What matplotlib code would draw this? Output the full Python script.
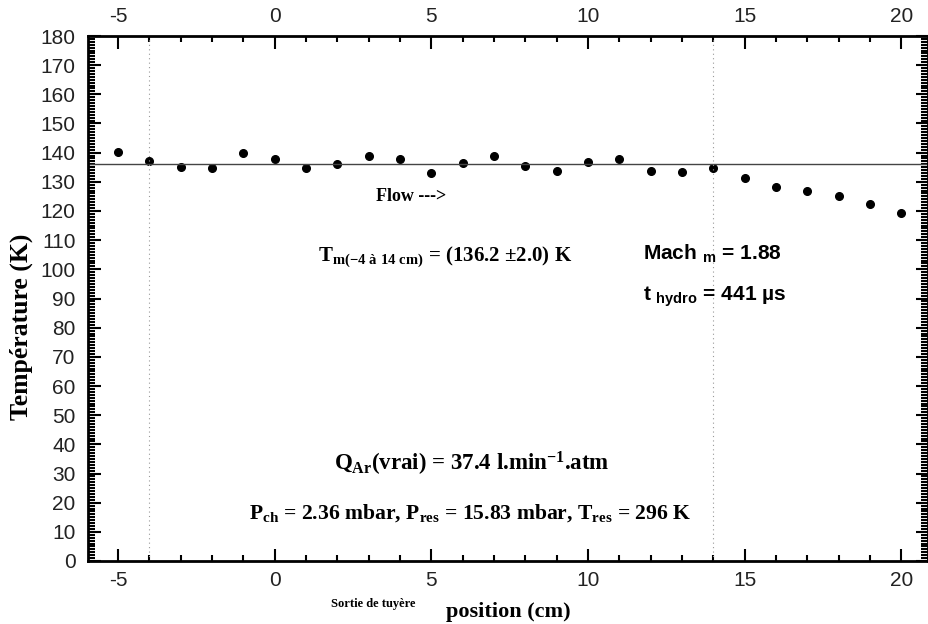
import numpy as np
import matplotlib
matplotlib.use("Agg")
import matplotlib.pyplot as plt
from matplotlib.ticker import MultipleLocator

plt.rcParams['mathtext.fontset'] = 'custom'
plt.rcParams['mathtext.rm'] = 'Liberation Serif:bold'
plt.rcParams['mathtext.it'] = 'Liberation Serif:bold'
plt.rcParams['mathtext.bf'] = 'Liberation Serif:bold'
plt.rcParams['mathtext.sf'] = 'Liberation Sans:bold'
plt.rcParams['axes.unicode_minus'] = False

# measured temperatures along the jet
position = [-5, -4, -3, -2, -1, 0, 1, 2, 3, 4, 5, 6, 7, 8, 9, 10, 11, 12, 13, 14, 15, 16, 17, 18, 19, 20]
temperature = [140.3, 137.2, 135.0, 134.6, 140.0, 137.7, 134.6, 136.1, 138.7, 137.7, 133.1, 136.4, 139.0,
               135.4, 133.8, 136.9, 137.7, 133.8, 133.4, 134.9, 131.4, 128.3, 126.7, 125.2, 122.4, 119.2]
t_mean = 136.2
bounds = [-4, 14]

serif = dict(family='Liberation Serif', weight='bold')
sans = dict(family='Liberation Sans', weight='bold')

fig = plt.figure(figsize=(9.29, 6.24), dpi=100)
ax = fig.add_axes([88 / 929, 63 / 624, 840 / 929, 525 / 624])

ax.plot(position, temperature, 'o', color='black', markersize=5.5)
ax.axhline(t_mean, color='#444444', lw=1.0)
for b in bounds:
    ax.axvline(b, color='#999999', lw=0.8, ls=(0, (1, 3)))

ax.set_xlim(-5.96, 20.85)
ax.set_ylim(0, 180)
ax.xaxis.set_major_locator(MultipleLocator(5))
ax.xaxis.set_minor_locator(MultipleLocator(1))
ax.yaxis.set_major_locator(MultipleLocator(10))
ax.yaxis.set_minor_locator(MultipleLocator(1))
ax.tick_params(which='both', direction='in', top=True, right=True, labeltop=True,
               width=1.5, labelsize=15)
ax.tick_params(which='major', length=9)
ax.tick_params(which='minor', length=4)
ax.tick_params(axis='y', which='minor', length=5)
ax.tick_params(axis='x', which='major', pad=7)
ax.tick_params(axis='y', which='major', pad=9)
for lab in ax.get_xticklabels() + ax.get_yticklabels():
    lab.set_family('Liberation Sans')
    lab.set_color('#222222')
for s in ax.spines.values():
    s.set_linewidth(2)

ax.set_ylabel('Température (K)', fontsize=18.5, **serif)
ax.yaxis.set_label_coords(-0.065, 0.446)
ax.set_xlabel('position (cm)', fontsize=16, labelpad=9, **serif)

ax.text(4.35, 124.8, 'Flow --->', fontsize=13, ha='center', va='center', **serif)
ax.text(5.45, 104.3, r'T$_{\mathrm{m(-4\ à\ 14\ cm)}}$ = (136.2 ±2.0) K', fontsize=15,
        ha='center', va='center', **serif)
ax.text(11.74, 105.6, r'Mach $_{\mathsf{m}}$ = 1.88', fontsize=15, ha='left', va='center', **sans)
ax.text(11.74, 90.5, r't $_{\mathsf{hydro}}$ = 441 µs', fontsize=15, ha='left', va='center', **sans)
ax.text(6.3, 33.3, r'Q$_{\mathrm{Ar}}$(vrai) = 37.4 l.min$^{\mathrm{-1}}$.atm', fontsize=16.5,
        ha='center', va='center', **serif)
ax.text(6.25, 16.3, r'P$_{\mathrm{ch}}$ = 2.36 mbar, P$_{\mathrm{res}}$ = 15.83 mbar, T$_{\mathrm{res}}$ = 296 K',
        fontsize=15.6, ha='center', va='center', **serif)
fig.text(373 / 929, 1 - 604 / 624, 'Sortie de tuyère', fontsize=9, ha='center', va='center', **serif)

fig.savefig('out.png', dpi=100)
